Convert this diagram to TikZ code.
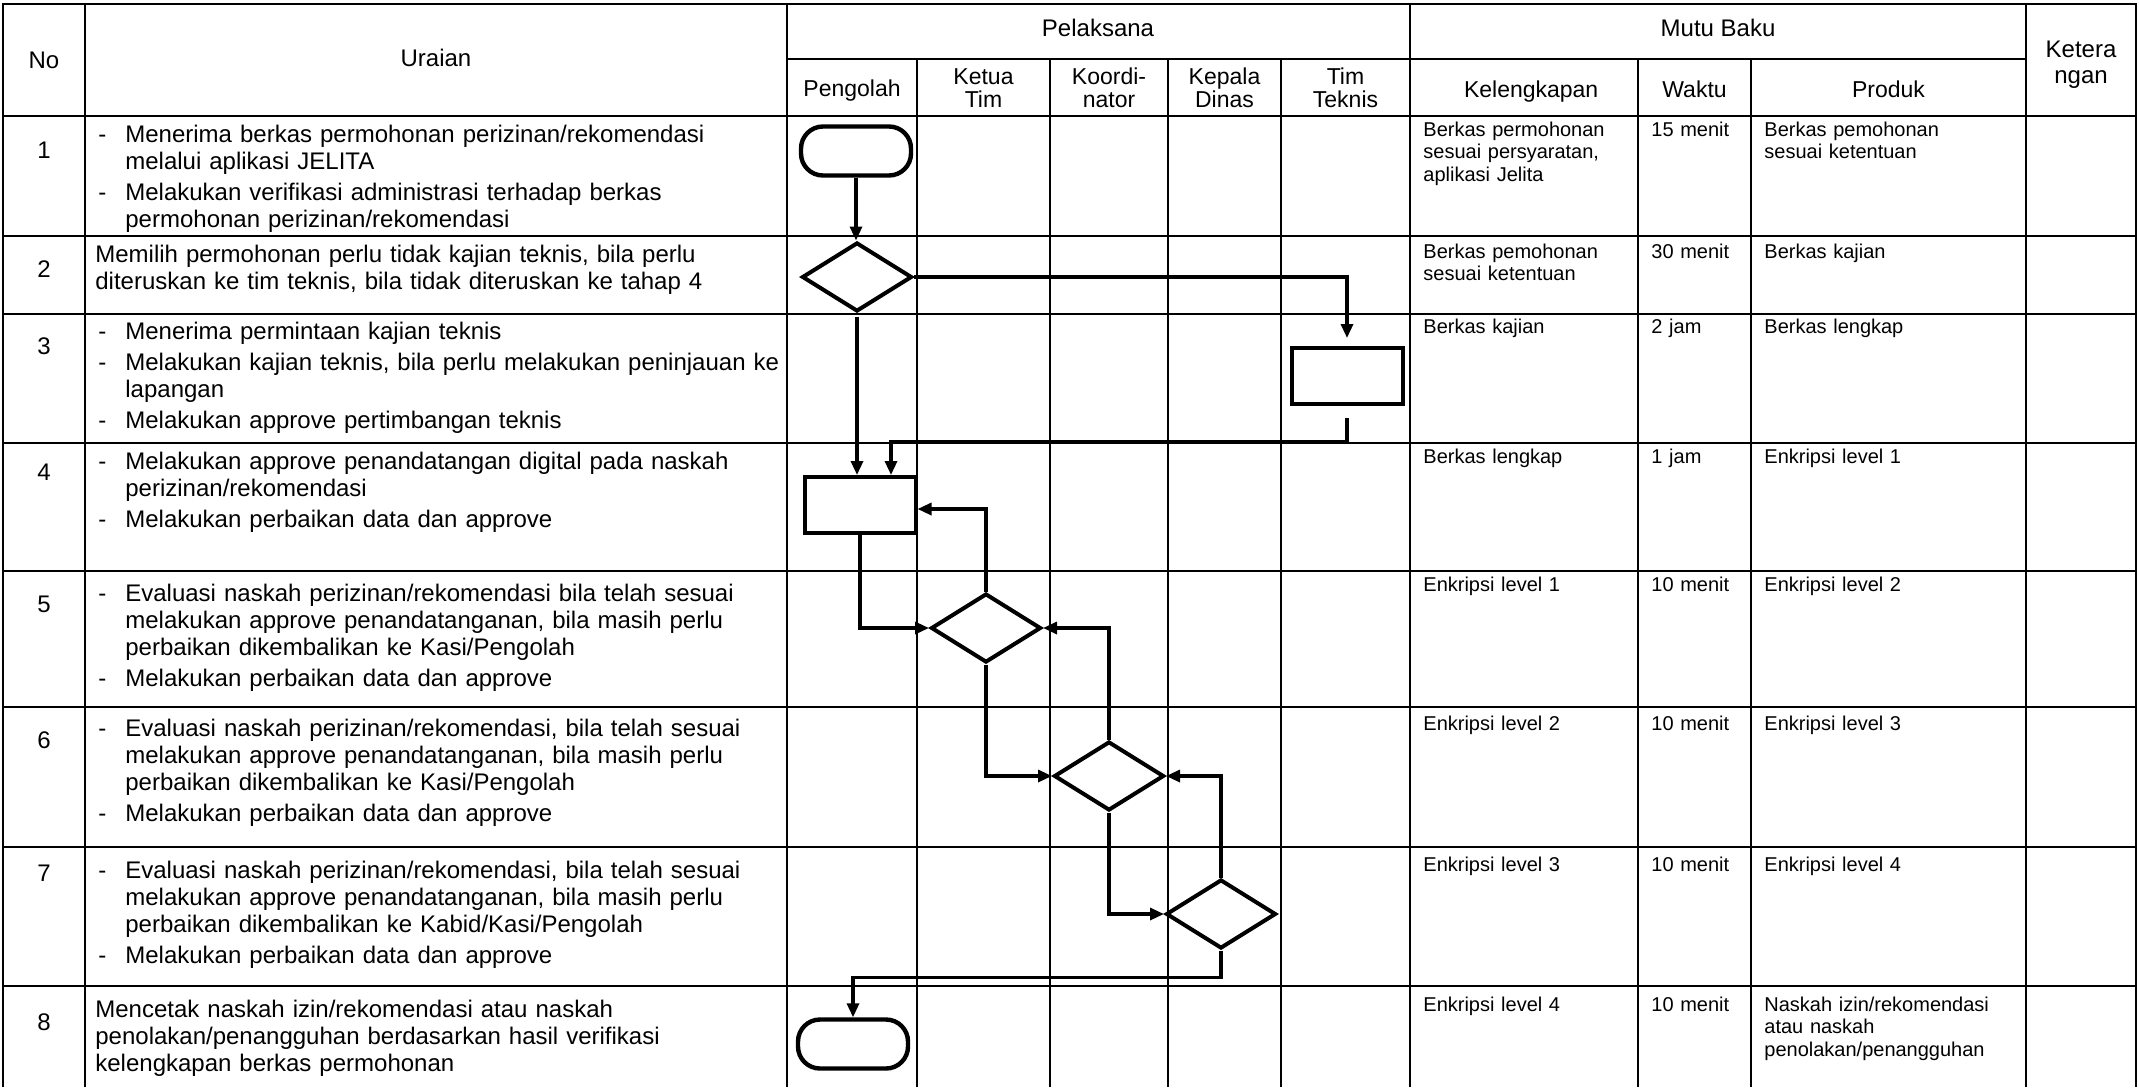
\documentclass[tikz,border=0pt]{standalone}
\usepackage{fontspec}
\setmainfont{Liberation Sans}
\usepackage{tikz}
\usetikzlibrary{shapes.geometric,arrows.meta}

\newcommand{\butir}{\makebox[13.5pt][l]{-}}
\newcommand{\lanjut}{\hspace*{13.5pt}}

\tikzset{
  garis/.style={line width=1.1pt},
  terminator/.style={draw, line width=2.2pt, rounded corners=11pt, minimum width=55pt, minimum height=24.5pt, inner sep=0pt},
  proses/.style={draw, line width=2pt, minimum width=55.5pt, minimum height=28pt, inner sep=0pt},
  keputusan/.style={draw, diamond, line width=2pt, minimum width=55pt, minimum height=34.5pt, inner sep=0pt},
  alur/.style={line width=1.6pt, -{Triangle[length=7pt,width=6pt]}},
  judul/.style={anchor=base, inner sep=0pt, font=\fontsize{12}{14}\selectfont},
  subjudul/.style={anchor=base, inner sep=0pt, align=center, text width=60pt, font=\fontsize{11.5}{11.5}\selectfont},
  nomor/.style={anchor=base, inner sep=0pt, font=\fontsize{12}{14}\selectfont},
  uraian/.style={anchor=base west, inner sep=0pt, align=left, text width=350pt, font=\fontsize{12}{13.5}\selectfont},
  mutu/.style={anchor=base west, inner sep=0pt, align=left, text width=130pt, font=\fontsize{10}{11.25}\selectfont}
}

\begin{document}
\begin{tikzpicture}[x=0.5pt, y=-0.5pt]
    \useasboundingbox (0,0) rectangle (2139,1087);

    % table grid
    \draw[garis] (3,1087) -- (3,4) -- (2136,4) -- (2136,1087);
    \foreach \gx in {85, 787, 1410, 2026}
        \draw[garis] (\gx,4) -- (\gx,1087);
    \foreach \gx in {917, 1050, 1168, 1281, 1638, 1751}
        \draw[garis] (\gx,59) -- (\gx,1087);
    \draw[garis] (787,59) -- (2026,59);
    \foreach \gy in {116, 236, 314, 443, 571, 707, 847, 986}
        \draw[garis] (3,\gy) -- (2136,\gy);

    % header
    \node[judul] (h_no)        at (44,68)     {No};
    \node[judul] (h_uraian)    at (436,66)    {Uraian};
    \node[judul] (h_pelaksana) at (1098,36)   {Pelaksana};
    \node[judul] (h_mutu)      at (1718,36)   {Mutu Baku};
    \node[subjudul, font=\fontsize{12}{13}\selectfont] (h_ket) at (2081,57) {Ketera\\ngan};
    \node[subjudul] (h_pengolah) at (852,96)    {Pengolah};
    \node[subjudul] (h_ketua)    at (983.5,84)  {Ketua\\Tim};
    \node[subjudul] (h_koord)    at (1109,84)   {Koordi-\\nator};
    \node[subjudul] (h_kadis)    at (1224.5,84) {Kepala\\Dinas};
    \node[subjudul] (h_teknis)   at (1345.5,84) {Tim\\Teknis};
    \node[subjudul] (h_lengkap)  at (1524,97)   {Kelengkapan};
    \node[subjudul] (h_waktu)    at (1694.5,97) {Waktu};
    \node[subjudul] (h_produk)   at (1888.5,97) {Produk};

    % row numbers
    \node[nomor] (n1) at (44,158)  {1};
    \node[nomor] (n2) at (44,277)  {2};
    \node[nomor] (n3) at (44,354)  {3};
    \node[nomor] (n4) at (44,480)  {4};
    \node[nomor] (n5) at (44,612)  {5};
    \node[nomor] (n6) at (44,748)  {6};
    \node[nomor] (n7) at (44,881)  {7};
    \node[nomor] (n8) at (44,1030) {8};

    % uraian
    \node[uraian] (u1) at (98,142) {\butir Menerima berkas permohonan perizinan/rekomendasi\\
        \lanjut melalui aplikasi JELITA\\[2pt]
        \butir Melakukan verifikasi administrasi terhadap berkas\\
        \lanjut permohonan perizinan/rekomendasi};
    \node[uraian] (u2) at (95,262) {Memilih permohonan perlu tidak kajian teknis, bila perlu\\
        diteruskan ke tim teknis, bila tidak diteruskan ke tahap 4};
    \node[uraian] (u3) at (98,339) {\butir Menerima permintaan kajian teknis\\[2pt]
        \butir Melakukan kajian teknis, bila perlu melakukan peninjauan ke\\
        \lanjut lapangan\\[2pt]
        \butir Melakukan approve pertimbangan teknis};
    \node[uraian] (u4) at (98,469) {\butir Melakukan approve penandatangan digital pada naskah\\
        \lanjut perizinan/rekomendasi\\[2pt]
        \butir Melakukan perbaikan data dan approve};
    \node[uraian] (u5) at (98,601) {\butir Evaluasi naskah perizinan/rekomendasi bila telah sesuai\\
        \lanjut melakukan approve penandatanganan, bila masih perlu\\
        \lanjut perbaikan dikembalikan ke Kasi/Pengolah\\[2pt]
        \butir Melakukan perbaikan data dan approve};
    \node[uraian] (u6) at (98,736) {\butir Evaluasi naskah perizinan/rekomendasi, bila telah sesuai\\
        \lanjut melakukan approve penandatanganan, bila masih perlu\\
        \lanjut perbaikan dikembalikan ke Kasi/Pengolah\\[2pt]
        \butir Melakukan perbaikan data dan approve};
    \node[uraian] (u7) at (98,878) {\butir Evaluasi naskah perizinan/rekomendasi, bila telah sesuai\\
        \lanjut melakukan approve penandatanganan, bila masih perlu\\
        \lanjut perbaikan dikembalikan ke Kabid/Kasi/Pengolah\\[2pt]
        \butir Melakukan perbaikan data dan approve};
    \node[uraian] (u8) at (95,1017) {Mencetak naskah izin/rekomendasi atau naskah\\
        penolakan/penangguhan berdasarkan hasil verifikasi\\
        kelengkapan berkas permohonan};

    % mutu baku
    \node[mutu] (k1) at (1423,136)  {Berkas permohonan\\sesuai persyaratan,\\aplikasi Jelita};
    \node[mutu] (w1) at (1651,136)  {15 menit};
    \node[mutu] (p1) at (1764,136)  {Berkas pemohonan\\sesuai ketentuan};
    \node[mutu] (k2) at (1423,258)  {Berkas pemohonan\\sesuai ketentuan};
    \node[mutu] (w2) at (1651,258)  {30 menit};
    \node[mutu] (p2) at (1764,258)  {Berkas kajian};
    \node[mutu] (k3) at (1423,333)  {Berkas kajian};
    \node[mutu] (w3) at (1651,333)  {2 jam};
    \node[mutu] (p3) at (1764,333)  {Berkas lengkap};
    \node[mutu] (k4) at (1423,463)  {Berkas lengkap};
    \node[mutu] (w4) at (1651,463)  {1 jam};
    \node[mutu] (p4) at (1764,463)  {Enkripsi level 1};
    \node[mutu] (k5) at (1423,591)  {Enkripsi level 1};
    \node[mutu] (w5) at (1651,591)  {10 menit};
    \node[mutu] (p5) at (1764,591)  {Enkripsi level 2};
    \node[mutu] (k6) at (1423,730)  {Enkripsi level 2};
    \node[mutu] (w6) at (1651,730)  {10 menit};
    \node[mutu] (p6) at (1764,730)  {Enkripsi level 3};
    \node[mutu] (k7) at (1423,871)  {Enkripsi level 3};
    \node[mutu] (w7) at (1651,871)  {10 menit};
    \node[mutu] (p7) at (1764,871)  {Enkripsi level 4};
    \node[mutu] (k8) at (1423,1011) {Enkripsi level 4};
    \node[mutu] (w8) at (1651,1011) {10 menit};
    \node[mutu] (p8) at (1764,1011) {Naskah izin/rekomendasi\\atau naskah\\penolakan/penangguhan};

    % flow symbols
    \node[terminator] (term_start)  at (856,151)  {};
    \node[keputusan]  (dec_teknis)  at (857,277)  {};
    \node[proses]     (box_kajian)  at (1347,376) {};
    \node[proses]     (box_approve) at (860,505)  {};
    \node[keputusan]  (dec_ketua)   at (986,628)  {};
    \node[keputusan]  (dec_koord)   at (1109,776) {};
    \node[keputusan]  (dec_kadis)   at (1221,914) {};
    \node[terminator] (term_end)    at (853,1044) {};

    % the connections
    \draw[alur] (term_start.south) -- (term_start.south |- dec_teknis.north);
    \draw[alur, shorten >=4pt] (dec_teknis.east) -| (box_kajian.north);
    \draw[alur] ([yshift=-1.5pt]dec_teknis.south) -- (dec_teknis.south |- box_approve.north);
    \draw[alur] ([yshift=-6pt]box_kajian.south) -- ++(0,24) -| ([xshift=15.5pt]box_approve.north);
    \draw[alur] (box_approve.south) |- (dec_ketua.west);
    \draw[alur] (dec_ketua.north)   |- ([yshift=-2pt]box_approve.east);
    \draw[alur] (dec_ketua.south)   |- (dec_koord.west);
    \draw[alur] (dec_koord.north)   |- (dec_ketua.east);
    \draw[alur] (dec_koord.south)   |- (dec_kadis.west);
    \draw[alur] (dec_kadis.north)   |- (dec_koord.east);
    \draw[alur] (dec_kadis.south) -- ++(0,27) -| (term_end.north);

\end{tikzpicture}
\end{document}
